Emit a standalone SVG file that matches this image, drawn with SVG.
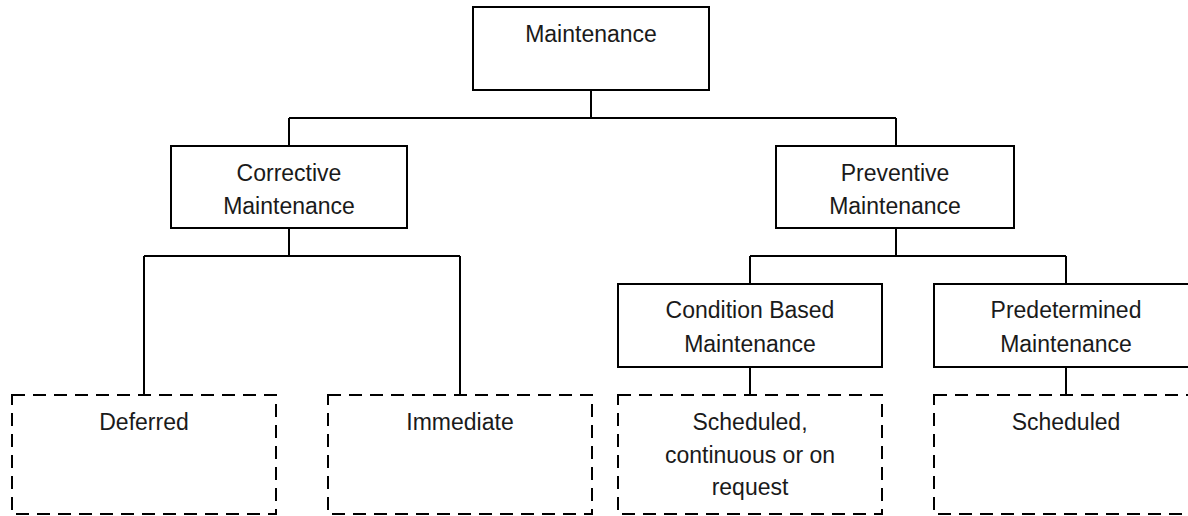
<svg xmlns="http://www.w3.org/2000/svg" width="1188" height="516" viewBox="0 0 1188 516">
<style>
.box{fill:#fff;stroke:#000;stroke-width:2}
.dbox{fill:#fff;stroke:#000;stroke-width:2;stroke-dasharray:13 8}
.conn{fill:none;stroke:#000;stroke-width:2}
text{font-family:"Liberation Sans",Arial,sans-serif;font-size:23px;fill:#1a1a1a;text-anchor:middle}
</style>
<rect width="1188" height="516" fill="#fff"/>
<g id="connectors">
<path class="conn" d="M591 90V118M289 118H896M289 118V146M896 118V146"/>
<path class="conn" d="M289 228V256M144 256H460M144 256V395M460 256V395"/>
<path class="conn" d="M896 228V256M750 256H1066M750 256V284M1066 256V284"/>
<path class="conn" d="M750 367V395M1066 367V395"/>
</g>
<g id="maintenance">
<rect class="box" x="473" y="7" width="236" height="83"/>
<text x="591" y="42">Maintenance</text>
</g>
<g id="corrective">
<rect class="box" x="171" y="146" width="236" height="82"/>
<text x="289" y="181">Corrective</text>
<text x="289" y="214">Maintenance</text>
</g>
<g id="preventive">
<rect class="box" x="776" y="146" width="238" height="82"/>
<text x="895" y="181">Preventive</text>
<text x="895" y="214">Maintenance</text>
</g>
<g id="condition">
<rect class="box" x="618" y="284" width="264" height="83"/>
<text x="750" y="318">Condition Based</text>
<text x="750" y="352">Maintenance</text>
</g>
<g id="predetermined">
<rect class="box" x="934" y="284" width="264" height="83"/>
<text x="1066" y="318">Predetermined</text>
<text x="1066" y="352">Maintenance</text>
</g>
<g id="deferred">
<rect class="dbox" x="12" y="395" width="264" height="119"/>
<text x="144" y="430">Deferred</text>
</g>
<g id="immediate">
<rect class="dbox" x="328" y="395" width="264" height="119"/>
<text x="460" y="430">Immediate</text>
</g>
<g id="scheduled-cbm">
<rect class="dbox" x="618" y="395" width="264" height="119"/>
<text x="750" y="430">Scheduled,</text>
<text x="750" y="463">continuous or on</text>
<text x="750" y="495">request</text>
</g>
<g id="scheduled-pdm">
<rect class="dbox" x="934" y="395" width="264" height="119"/>
<text x="1066" y="430">Scheduled</text>
</g>
</svg>
